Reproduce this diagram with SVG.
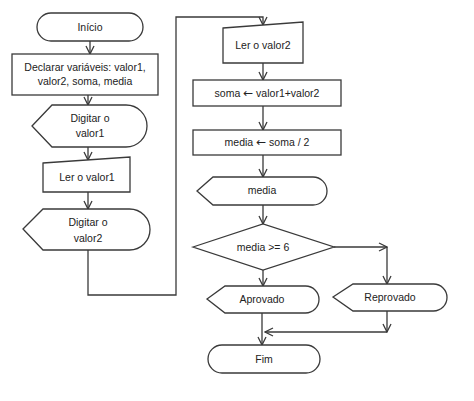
<svg xmlns="http://www.w3.org/2000/svg" width="474" height="401" viewBox="0 0 474 401">
<style>
.s{fill:#fff;stroke:#3a3a3a;stroke-width:1.3}
.t{font-family:"Liberation Sans",Arial,sans-serif;font-size:10.5px;fill:#222;text-anchor:middle;dominant-baseline:central}
.ar{font-family:"DejaVu Sans",sans-serif;font-size:12px}
.c{fill:none;stroke:#3a3a3a;stroke-width:1.3;marker-end:url(#a)}
</style>
<defs>
<marker id="a" viewBox="0 0 10 10" refX="9" refY="5" markerWidth="10" markerHeight="10" markerUnits="userSpaceOnUse" orient="auto">
<path d="M1,1 L9,5 L1,9" fill="none" stroke="#3a3a3a" stroke-width="1.3"/>
</marker>
</defs>
<rect width="474" height="401" fill="#fff"/>
<g id="connectors">
<path class="c" d="M90,41 V54"/>
<path class="c" d="M88,95 V105"/>
<path class="c" d="M88,147 V160"/>
<path class="c" d="M88,192 V209"/>
<path class="c" d="M88,250 V295 H176 V17 H263 V25"/>
<path class="c" d="M263,63 V80"/>
<path class="c" d="M263,106 V130"/>
<path class="c" d="M263,155 V177"/>
<path class="c" d="M263,205 V224"/>
<path class="c" d="M263,270 V286"/>
<path class="c" d="M334,247 H387"/>
<path class="c" d="M387,247 V284"/>
<path class="c" d="M387,311 V332"/>
<path class="c" d="M387,332 H265"/>
<path class="c" d="M262,313 V345"/>
</g>
<g id="inicio"><rect class="s" x="37" y="13" width="106" height="28" rx="14"/><text class="t" x="90" y="27">Início</text></g>
<g id="declarar"><rect class="s" x="12" y="54" width="146" height="41"/><text class="t" x="85" y="67">Declarar variáveis: valor1,</text><text class="t" x="85" y="81">valor2, soma, media</text></g>
<g id="digitar1"><path class="s" d="M32,126 L52,105 H126 A21,21 0 0 1 126,147 H52 Z"/><text class="t" x="90" y="118">Digitar o</text><text class="t" x="90" y="133">valor1</text></g>
<g id="ler1"><path class="s" d="M43,163 L130,157 V192 H43 Z"/><text class="t" x="87" y="177">Ler o valor1</text></g>
<g id="digitar2"><path class="s" d="M23,229 L43,209 H129.5 A20.5,20.5 0 0 1 129.5,250 H43 Z"/><text class="t" x="88" y="222">Digitar o</text><text class="t" x="88" y="238">valor2</text></g>
<g id="ler2"><path class="s" d="M223,28 L303,22 V63 H223 Z"/><text class="t" x="263" y="45">Ler o valor2</text></g>
<g id="soma"><rect class="s" x="193" y="80" width="148" height="26"/><text class="t" x="267" y="93">soma <tspan class="ar">←</tspan>  valor1+valor2</text></g>
<g id="mediaCalc"><rect class="s" x="193" y="130" width="148" height="25"/><text class="t" x="267" y="142">media <tspan class="ar">←</tspan> soma / 2</text></g>
<g id="mediaOut"><path class="s" d="M197,191 L213,177 H313 A14,14 0 0 1 313,205 H213 Z"/><text class="t" x="262" y="190">media</text></g>
<g id="decisao"><path class="s" d="M193,247 L263,224 L334,247 L263,270 Z"/><text class="t" x="263" y="247">media &gt;= 6</text></g>
<g id="aprovado"><path class="s" d="M207,299 L225,286 H305.5 A13.5,13.5 0 0 1 305.5,313 H225 Z"/><text class="t" x="262" y="299">Aprovado</text></g>
<g id="reprovado"><path class="s" d="M333,297 L353,284 H433.5 A13.5,13.5 0 0 1 433.5,311 H353 Z"/><text class="t" x="390" y="297">Reprovado</text></g>
<g id="fim"><rect class="s" x="208" y="345" width="112" height="28" rx="14"/><text class="t" x="264" y="359">Fim</text></g>
</svg>
